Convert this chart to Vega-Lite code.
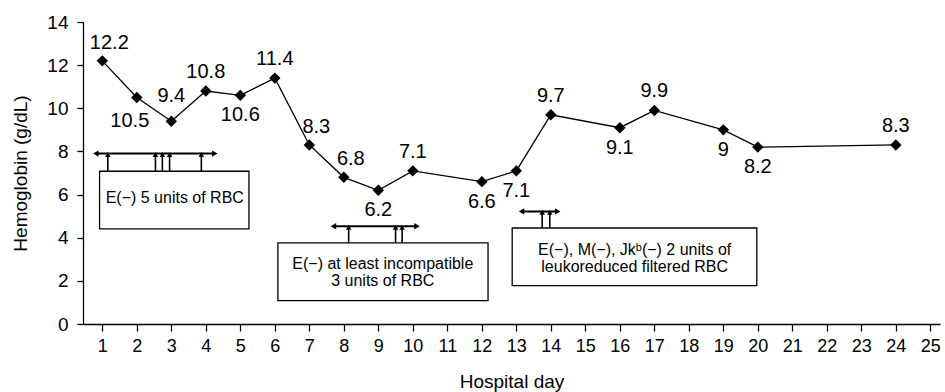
{
  "$schema": "https://vega.github.io/schema/vega-lite/v6.json",
  "width": 857,
  "height": 302,
  "autosize": "none",
  "padding": {"left": 83, "top": 22, "right": 5, "bottom": 68},
  "background": "white",
  "config": {
    "view": {"stroke": null},
    "font": "Liberation Sans",
    "axis": {"grid": false, "domainColor": "black", "tickColor": "black", "labelColor": "black", "titleColor": "black", "domainWidth": 1.3, "tickWidth": 1.3, "labelFont": "Liberation Sans", "titleFont": "Liberation Sans", "titleFontWeight": "normal"}
  },
  "datasets": {
    "hb": [
      {"day": 1, "hb": 12.2}, {"day": 2, "hb": 10.5}, {"day": 3, "hb": 9.4}, {"day": 4, "hb": 10.8},
      {"day": 5, "hb": 10.6}, {"day": 6, "hb": 11.4}, {"day": 7, "hb": 8.3}, {"day": 8, "hb": 6.8},
      {"day": 9, "hb": 6.2}, {"day": 10, "hb": 7.1}, {"day": 12, "hb": 6.6}, {"day": 13, "hb": 7.1},
      {"day": 14, "hb": 9.7}, {"day": 16, "hb": 9.1}, {"day": 17, "hb": 9.9}, {"day": 19, "hb": 9},
      {"day": 20, "hb": 8.2}, {"day": 24, "hb": 8.3}
    ],
    "spans": [
      {"x1": 0.81, "x2": 4.26, "y": 7.9},
      {"x1": 7.7, "x2": 10.12, "y": 4.53},
      {"x1": 13.15, "x2": 14.2, "y": 5.22}
    ],
    "arrows": [
      {"x": 1.16, "y1": 7.08, "y2": 7.85},
      {"x": 2.54, "y1": 7.08, "y2": 7.85},
      {"x": 2.74, "y1": 7.08, "y2": 7.85},
      {"x": 2.95, "y1": 7.08, "y2": 7.85},
      {"x": 3.87, "y1": 7.08, "y2": 7.85},
      {"x": 8.14, "y1": 3.76, "y2": 4.48},
      {"x": 9.5, "y1": 3.76, "y2": 4.48},
      {"x": 9.69, "y1": 3.76, "y2": 4.48},
      {"x": 13.75, "y1": 4.45, "y2": 5.17},
      {"x": 13.97, "y1": 4.45, "y2": 5.17}
    ],
    "boxes": [
      {"x1": 0.92, "x2": 5.25, "y1": 4.41, "y2": 7.08},
      {"x1": 6.09, "x2": 12.18, "y1": 1.08, "y2": 3.76},
      {"x1": 12.88, "x2": 19.97, "y1": 1.78, "y2": 4.45}
    ],
    "notes": [
      {"x": 3.1, "y": 5.6, "text": "E(−) 5 units of RBC"},
      {"x": 9.13, "y": 2.55, "text": "E(−) at least incompatible"},
      {"x": 9.13, "y": 1.745, "text": "3 units of RBC"},
      {"x": 16.43, "y": 3.18, "text": "E(−), M(−), Jkᵇ(−) 2 units of"},
      {"x": 16.43, "y": 2.39, "text": "leukoreduced filtered RBC"}
    ]
  },
  "layer": [
    {
      "data": {"name": "boxes"},
      "mark": {"type": "rect", "fill": "white", "stroke": "black", "strokeWidth": 1.3},
      "encoding": {
        "x": {"field": "x1", "type": "quantitative", "scale": {"domain": [0.44, 25.28], "nice": false, "zero": false},
          "axis": {"values": [1,2,3,4,5,6,7,8,9,10,11,12,13,14,15,16,17,18,19,20,21,22,23,24,25], "tickCount": 40, "format": "d", "title": "Hospital day", "labelFontSize": 18, "tickSize": 7, "labelPadding": 6, "labelOverlap": false, "labelBound": false, "labelFlush": false, "titleFontSize": 19, "titleBaseline": "alphabetic", "titleY": 63}},
        "x2": {"field": "x2"},
        "y": {"field": "y1", "type": "quantitative", "scale": {"domain": [0, 14], "nice": false},
          "axis": {"values": [0,2,4,6,8,10,12,14], "tickCount": 10, "format": "d", "title": "Hemoglobin (g/dL)", "labelFontSize": 19, "tickSize": 6, "labelPadding": 9, "labelOverlap": false, "titleFontSize": 19, "titleBaseline": "alphabetic", "titleX": -57, "titleY": 151}},
        "y2": {"field": "y2"}
      }
    },
    {
      "data": {"name": "notes"},
      "mark": {"type": "text", "fontSize": 16, "align": "center", "baseline": "alphabetic", "color": "black"},
      "encoding": {
        "x": {"field": "x", "type": "quantitative"},
        "y": {"field": "y", "type": "quantitative"},
        "text": {"field": "text", "type": "nominal"}
      }
    },
    {
      "data": {"name": "spans"},
      "mark": {"type": "rule", "color": "black", "strokeWidth": 2},
      "encoding": {
        "x": {"field": "x1", "type": "quantitative"},
        "x2": {"field": "x2"},
        "y": {"field": "y", "type": "quantitative"}
      }
    },
    {
      "data": {"name": "spans"},
      "mark": {"type": "point", "shape": "triangle-left", "filled": true, "color": "black", "size": 40, "opacity": 1},
      "encoding": {
        "x": {"field": "x1", "type": "quantitative"},
        "y": {"field": "y", "type": "quantitative"}
      }
    },
    {
      "data": {"name": "spans"},
      "mark": {"type": "point", "shape": "triangle-right", "filled": true, "color": "black", "size": 40, "opacity": 1},
      "encoding": {
        "x": {"field": "x2", "type": "quantitative"},
        "y": {"field": "y", "type": "quantitative"}
      }
    },
    {
      "data": {"name": "arrows"},
      "mark": {"type": "rule", "color": "black", "strokeWidth": 1.6},
      "encoding": {
        "x": {"field": "x", "type": "quantitative"},
        "y": {"field": "y1", "type": "quantitative"},
        "y2": {"field": "y2"}
      }
    },
    {
      "data": {"name": "arrows"},
      "mark": {"type": "point", "shape": "triangle-up", "filled": true, "color": "black", "size": 30, "opacity": 1},
      "encoding": {
        "x": {"field": "x", "type": "quantitative"},
        "y": {"field": "y2", "type": "quantitative"}
      }
    },
    {
      "data": {"name": "hb"},
      "mark": {"type": "line", "color": "black", "strokeWidth": 1.3},
      "encoding": {
        "x": {"field": "day", "type": "quantitative"},
        "y": {"field": "hb", "type": "quantitative"}
      }
    },
    {
      "data": {"name": "hb"},
      "mark": {"type": "point", "shape": "diamond", "filled": true, "color": "black", "size": 130, "opacity": 1},
      "encoding": {
        "x": {"field": "day", "type": "quantitative"},
        "y": {"field": "hb", "type": "quantitative"}
      }
    },
    {
      "data": {"name": "hb"},
      "transform": [{"filter": {"field": "day", "oneOf": [4, 6, 10, 14, 17, 24]}}],
      "mark": {"type": "text", "fontSize": 20, "align": "center", "baseline": "alphabetic", "dy": -13, "color": "black"},
      "encoding": {
        "x": {"field": "day", "type": "quantitative"},
        "y": {"field": "hb", "type": "quantitative"},
        "text": {"field": "hb", "type": "nominal"}
      }
    },
    {
      "data": {"name": "hb"},
      "transform": [{"filter": {"field": "day", "oneOf": [1, 7, 8]}}],
      "mark": {"type": "text", "fontSize": 20, "align": "center", "baseline": "alphabetic", "dx": 7, "dy": -12, "color": "black"},
      "encoding": {
        "x": {"field": "day", "type": "quantitative"},
        "y": {"field": "hb", "type": "quantitative"},
        "text": {"field": "hb", "type": "nominal"}
      }
    },
    {
      "data": {"name": "hb"},
      "transform": [{"filter": {"field": "day", "oneOf": [3]}}],
      "mark": {"type": "text", "fontSize": 20, "align": "center", "baseline": "alphabetic", "dy": -19, "color": "black"},
      "encoding": {
        "x": {"field": "day", "type": "quantitative"},
        "y": {"field": "hb", "type": "quantitative"},
        "text": {"field": "hb", "type": "nominal"}
      }
    },
    {
      "data": {"name": "hb"},
      "transform": [{"filter": {"field": "day", "oneOf": [5, 9, 12, 13, 16, 19, 20]}}],
      "mark": {"type": "text", "fontSize": 20, "align": "center", "baseline": "alphabetic", "dy": 26, "color": "black"},
      "encoding": {
        "x": {"field": "day", "type": "quantitative"},
        "y": {"field": "hb", "type": "quantitative"},
        "text": {"field": "hb", "type": "nominal"}
      }
    },
    {
      "data": {"name": "hb"},
      "transform": [{"filter": {"field": "day", "oneOf": [2]}}],
      "mark": {"type": "text", "fontSize": 20, "align": "center", "baseline": "alphabetic", "dx": -7, "dy": 29, "color": "black"},
      "encoding": {
        "x": {"field": "day", "type": "quantitative"},
        "y": {"field": "hb", "type": "quantitative"},
        "text": {"field": "hb", "type": "nominal"}
      }
    }
  ]
}
